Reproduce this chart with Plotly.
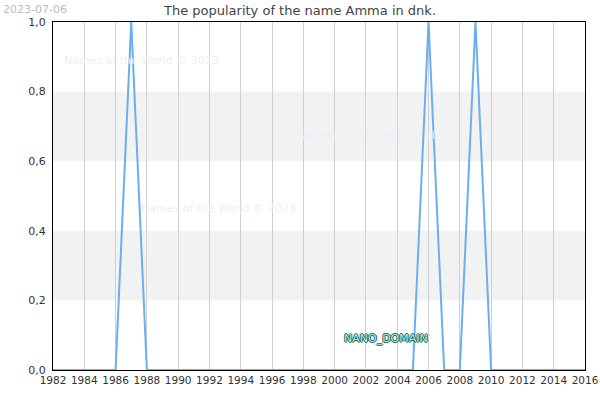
import plotly.graph_objects as go

years = list(range(1982, 2017))
peaks = {1987: 1.0, 2006: 1.0, 2009: 1.0}
values = [peaks.get(y, 0.0) for y in years]

band_ranges = [(0.2, 0.4), (0.6, 0.8)]
watermarks = [(1982.6, 0.89), (1997.5, 0.675), (1987.5, 0.465)]

fig = go.Figure()
fig.add_trace(go.Scatter(x=years, y=values, mode="lines",
                         line=dict(color="#6aaef0", width=2)))

for y0, y1 in band_ranges:
    fig.add_hrect(y0=y0, y1=y1, fillcolor="#f2f2f2", line_width=0, layer="below")

for x, y in watermarks:
    fig.add_annotation(x=x, y=y, text="Names of the World © 2023", showarrow=False,
                       xanchor="left", font=dict(color="#eeeefa", size=11))

# outlined label
fig.add_annotation(x=2003.3, y=0.09, text="NANO_DOMAIN", showarrow=False,
                   font=dict(color="#bfeee0", size=11, family="DejaVu Sans",
                             shadow="-1px 0 #13655b, 1px 0 #13655b, 0 -1px #13655b, 0 1px #13655b"))
fig.add_annotation(xref="paper", yref="paper", x=-0.098, y=1.06, text="2023-07-06",
                   showarrow=False, xanchor="left", yanchor="top",
                   font=dict(color="#bbbbbb", size=11))

fig.update_layout(
    width=600, height=400,
    margin=dict(l=53, r=15, t=22, b=30, autoexpand=False),
    plot_bgcolor="white", paper_bgcolor="white",
    showlegend=False,
    font=dict(family="DejaVu Sans", size=11, color="#333"),
    title=dict(text="The popularity of the name Amma in dnk.", x=0.5, y=0.985,
               font=dict(size=13, color="#444")),
    separators=",.",
)
fig.update_xaxes(range=[1982, 2016], tick0=1982, dtick=2, showgrid=True,
                 gridcolor="#d0d0d0", showline=True, linecolor="black", mirror=True,
                 ticks="", zeroline=False, automargin=False, tickangle=0,
                 tickfont=dict(size=10.5))
fig.update_yaxes(range=[0, 1], dtick=0.2, tickformat=".1f",
                 showgrid=False, showline=True, linecolor="black", mirror=True,
                 zeroline=False, automargin=False, ticklabelstandoff=4)
fig.write_html("out.html", post_script="document.body.style.margin='0';",
               config={"displayModeBar": False})
